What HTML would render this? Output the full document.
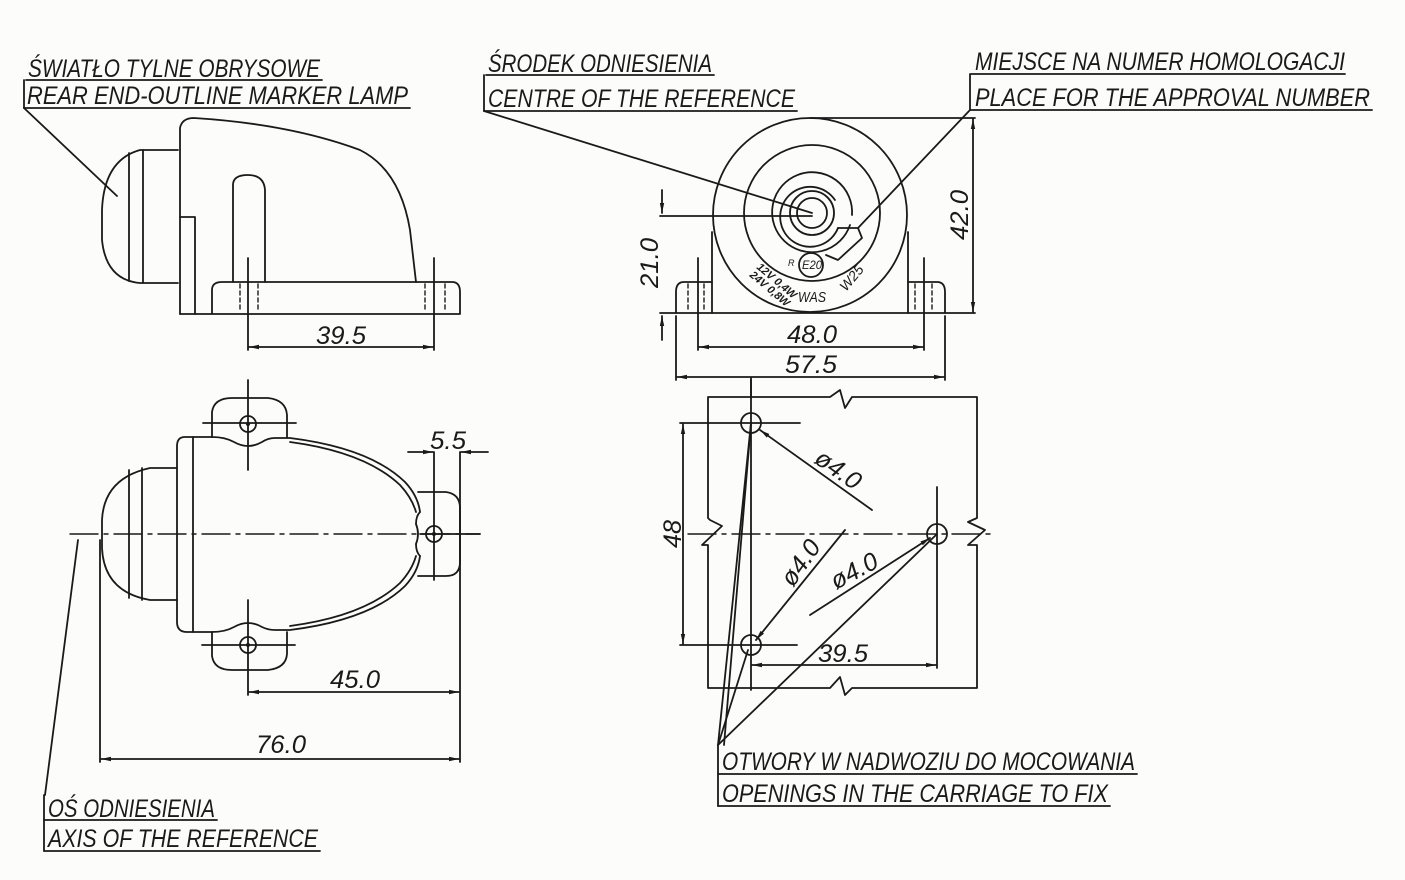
<!DOCTYPE html>
<html><head><meta charset="utf-8"><style>
html,body{margin:0;padding:0;background:#fcfcfb;}
svg{display:block;}
text{font-family:"Liberation Sans",sans-serif;font-style:italic;fill:#1a1a1a;}
</style></head><body>
<svg width="1405" height="880" viewBox="0 0 1405 880" xmlns="http://www.w3.org/2000/svg">
<defs>
<marker id="a" viewBox="0 0 10 6" refX="10" refY="3" markerWidth="10" markerHeight="6" orient="auto-start-reverse" markerUnits="userSpaceOnUse"><path d="M0,0.8 L10,3 L0,5.2z" fill="#1a1a1a"/></marker>
</defs>
<g stroke="#1a1a1a" stroke-width="1.8" fill="none" stroke-linecap="round" stroke-linejoin="round">

<line x1="26" y1="80" x2="322" y2="80"/>
<line x1="24" y1="108" x2="410" y2="108"/>
<line x1="24" y1="80" x2="24" y2="108"/>
<line x1="24" y1="108" x2="117" y2="196"/>

<path d="M180,314 L180,128 Q182,118 194,118 Q290,124 360,150 Q400,170 410,230 L416,282"/>
<path d="M178,150 L140,150 Q104,160 102,210 L102,240 Q106,280 140,283 L178,283"/>
<line x1="129" y1="153" x2="129" y2="281"/>
<line x1="143" y1="150" x2="143" y2="283"/>
<path d="M180,217 L195,217 L195,314"/>
<path d="M180,314 L212,314 M212,314 L212,290 Q212,282 222,282 L452,282 Q460,282 460,292 L460,314 Z"/>
<path d="M233,282 L233,185 Q233,175 248,175 Q264,175 265,190 L265,282"/>
<g stroke-dasharray="4,3" stroke-width="1.4">
<line x1="240" y1="284" x2="240" y2="312"/><line x1="258" y1="284" x2="258" y2="312"/>
<line x1="425" y1="284" x2="425" y2="312"/><line x1="445" y1="284" x2="445" y2="312"/>
</g>
<line x1="248" y1="258" x2="248" y2="350"/>
<line x1="434" y1="258" x2="434" y2="350"/>
<line x1="249" y1="347" x2="433" y2="347" marker-start="url(#a)" marker-end="url(#a)"/>

<line x1="486" y1="75" x2="714" y2="75"/>
<line x1="484" y1="111" x2="797" y2="111"/>
<line x1="484" y1="75" x2="484" y2="111"/>
<line x1="484" y1="111" x2="812" y2="213"/>
<line x1="971" y1="74" x2="1345" y2="74"/>
<line x1="970" y1="110" x2="1372" y2="110"/>
<line x1="970" y1="74" x2="970" y2="110"/>
<line x1="970" y1="110" x2="858" y2="228"/>

<circle cx="810" cy="215" r="97"/>
<circle cx="812" cy="213" r="68"/>
<circle cx="812" cy="213" r="15"/>
<circle cx="812" cy="213" r="22"/>
<path d="M838,228 A30,30 0 1 1 835,200"/>
<path d="M850,225 A40,40 0 1 1 852,215"/>
<path d="M838,228 L858,228 L862,238 L838,260 L826,255"/>
<circle cx="811" cy="265" r="12"/>
<line x1="712" y1="232" x2="712" y2="313"/>
<line x1="908" y1="232" x2="908" y2="313"/>
<path d="M712,282 L684,282 Q676,282 676,292 L676,313"/>
<path d="M908,282 L937,282 Q945,282 945,292 L945,313"/>
<g stroke-dasharray="4,3" stroke-width="1.4">
<line x1="688" y1="284" x2="688" y2="311"/><line x1="704" y1="284" x2="704" y2="311"/>
<line x1="915" y1="284" x2="915" y2="311"/><line x1="932" y1="284" x2="932" y2="311"/>
</g>
<line x1="660" y1="313" x2="975" y2="313"/>
<line x1="810" y1="118" x2="975" y2="118"/>
<line x1="973" y1="119" x2="973" y2="312" marker-start="url(#a)" marker-end="url(#a)"/>
<line x1="660" y1="216" x2="812" y2="216"/>
<line x1="662" y1="190" x2="662" y2="213" marker-end="url(#a)"/>
<line x1="662" y1="340" x2="662" y2="316" marker-end="url(#a)"/>
<line x1="698" y1="258" x2="698" y2="350"/>
<line x1="924" y1="258" x2="924" y2="350"/>
<line x1="699" y1="347" x2="923" y2="347" marker-start="url(#a)" marker-end="url(#a)"/>
<line x1="676" y1="316" x2="676" y2="380"/>
<line x1="945" y1="316" x2="945" y2="380"/>
<line x1="677" y1="377" x2="944" y2="377" marker-start="url(#a)" marker-end="url(#a)"/>
<line x1="751" y1="378" x2="751" y2="398"/>

<line x1="70" y1="534" x2="480" y2="534" stroke-dasharray="28,6,4,6" stroke-width="1.4"/>
<path d="M177,468 L150,468 Q104,478 102,520 L102,548 Q104,592 150,600 L177,600"/>
<line x1="129" y1="470" x2="129" y2="598"/>
<line x1="142" y1="468" x2="142" y2="600"/>
<path d="M212,437 L185,437 Q177,437 177,446 L177,622 Q177,632 187,632 L212,632"/>
<line x1="193" y1="437" x2="193" y2="632"/>
<path d="M212,437 L212,412 Q214,398 232,398 L268,398 Q286,400 287,415 L287,437"/>
<path d="M212,437 Q225,437 234,442 Q248,450 262,442 Q268,438 275,438 L290,438 Q370,448 405,482 Q418,496 420,512"/>
<path d="M290,442 Q365,452 400,485 Q412,498 416,512"/>
<path d="M212,632 L212,656 Q214,670 232,670 L268,670 Q286,668 287,654 L287,632"/>
<path d="M212,632 Q225,632 234,627 Q248,619 262,627 Q268,630 275,630 L290,630 Q370,620 405,586 Q418,572 420,556"/>
<path d="M290,626 Q365,616 400,583 Q412,570 416,556"/>
<path d="M420,512 Q416,516 416,524 M416,544 Q416,552 420,556"/>
<path d="M416,524 Q420,534 416,544"/>
<path d="M418,492 L446,492 Q460,494 460,508 L460,562 Q460,576 446,576 L418,576"/>
<circle cx="248" cy="424" r="8"/><circle cx="248" cy="424" r="1.2" fill="#1a1a1a"/>
<circle cx="248" cy="645" r="8"/><circle cx="248" cy="645" r="1.2" fill="#1a1a1a"/>
<circle cx="434" cy="534" r="8"/><circle cx="434" cy="534" r="1.2" fill="#1a1a1a"/>
<line x1="248" y1="380" x2="248" y2="470"/>
<line x1="203" y1="423" x2="296" y2="423"/>
<line x1="248" y1="600" x2="248" y2="695"/>
<line x1="202" y1="645" x2="295" y2="645"/>
<line x1="434" y1="452" x2="434" y2="580"/>
<line x1="420" y1="534" x2="480" y2="534"/>
<line x1="460" y1="452" x2="460" y2="762"/>
<line x1="408" y1="452" x2="433" y2="452" marker-end="url(#a)"/>
<line x1="488" y1="452" x2="461" y2="452" marker-end="url(#a)"/>
<line x1="249" y1="692" x2="459" y2="692" marker-start="url(#a)" marker-end="url(#a)"/>
<line x1="100" y1="540" x2="100" y2="762"/>
<line x1="101" y1="759" x2="459" y2="759" marker-start="url(#a)" marker-end="url(#a)"/>
<line x1="78" y1="540" x2="45" y2="795"/>
<line x1="44" y1="795" x2="44" y2="851"/>
<line x1="44" y1="820" x2="217" y2="820"/>
<line x1="44" y1="851" x2="320" y2="851"/>

<path d="M708,397 L830,397 L840,390 L845,408 L852,397 L977,397 L977,518 L968,522 L985,530 L968,545 L977,545 L977,688 L852,688 L845,695 L840,677 L830,688 L708,688 L708,545 L702,545 L722,526 L710,520 L708,518 Z"/>
<line x1="688" y1="534" x2="990" y2="534" stroke-dasharray="28,6,4,6" stroke-width="1.4"/>
<circle cx="751" cy="423" r="10"/>
<circle cx="751" cy="645" r="10"/>
<circle cx="937" cy="534" r="10"/>
<line x1="680" y1="423" x2="800" y2="423"/>
<line x1="680" y1="645" x2="797" y2="645"/>
<line x1="683" y1="424" x2="683" y2="644" marker-start="url(#a)" marker-end="url(#a)"/>
<line x1="751" y1="380" x2="751" y2="690"/>
<line x1="937" y1="487" x2="937" y2="668"/>
<line x1="752" y1="665" x2="936" y2="665" marker-start="url(#a)" marker-end="url(#a)"/>
<line x1="872" y1="510" x2="760" y2="430" marker-end="url(#a)"/>
<line x1="845" y1="530" x2="756" y2="640" marker-end="url(#a)"/>
<line x1="810" y1="615" x2="930" y2="538" marker-end="url(#a)"/>
<line x1="718" y1="745" x2="751" y2="423"/>
<line x1="724" y1="745" x2="751" y2="423"/>
<line x1="718" y1="745" x2="748" y2="650"/>
<line x1="718" y1="745" x2="937" y2="534"/>
<line x1="718" y1="745" x2="718" y2="806"/>
<line x1="718" y1="774" x2="1137" y2="774"/>
<line x1="718" y1="806" x2="1110" y2="806"/>
</g>

<g font-size="25">
<text x="28" y="77" textLength="292" lengthAdjust="spacingAndGlyphs">ŚWIATŁO TYLNE OBRYSOWE</text>
<text x="27" y="104" textLength="381" lengthAdjust="spacingAndGlyphs">REAR END-OUTLINE MARKER LAMP</text>
<text x="488" y="72" textLength="224" lengthAdjust="spacingAndGlyphs">ŚRODEK ODNIESIENIA</text>
<text x="488" y="107" textLength="307" lengthAdjust="spacingAndGlyphs">CENTRE OF THE REFERENCE</text>
<text x="975" y="70" textLength="370" lengthAdjust="spacingAndGlyphs">MIEJSCE NA NUMER HOMOLOGACJI</text>
<text x="975" y="106" textLength="395" lengthAdjust="spacingAndGlyphs">PLACE FOR THE APPROVAL NUMBER</text>
<text x="722" y="770" textLength="413" lengthAdjust="spacingAndGlyphs">OTWORY W NADWOZIU DO MOCOWANIA</text>
<text x="722" y="802" textLength="386" lengthAdjust="spacingAndGlyphs">OPENINGS IN THE CARRIAGE TO FIX</text>
<text x="48" y="817" textLength="167" lengthAdjust="spacingAndGlyphs">OŚ ODNIESIENIA</text>
<text x="48" y="847" textLength="270" lengthAdjust="spacingAndGlyphs">AXIS OF THE REFERENCE</text>
<text x="316" y="344" textLength="50" lengthAdjust="spacingAndGlyphs">39.5</text>
<text x="330" y="688" textLength="50" lengthAdjust="spacingAndGlyphs">45.0</text>
<text x="256" y="753" textLength="50" lengthAdjust="spacingAndGlyphs">76.0</text>
<text x="430" y="449" textLength="36" lengthAdjust="spacingAndGlyphs">5.5</text>
<text x="787" y="343" textLength="50" lengthAdjust="spacingAndGlyphs">48.0</text>
<text x="785" y="373" textLength="52" lengthAdjust="spacingAndGlyphs">57.5</text>
<text x="818" y="662" textLength="50" lengthAdjust="spacingAndGlyphs">39.5</text>
<text transform="translate(968,240) rotate(-90)" textLength="50" lengthAdjust="spacingAndGlyphs">42.0</text>
<text transform="translate(658,288) rotate(-90)" textLength="50" lengthAdjust="spacingAndGlyphs">21.0</text>
<text transform="translate(681,548) rotate(-90)" textLength="28" lengthAdjust="spacingAndGlyphs">48</text>
<text transform="translate(813,462) rotate(35)" textLength="50" lengthAdjust="spacingAndGlyphs">ø4.0</text>
<text transform="translate(793,588) rotate(-55)" textLength="50" lengthAdjust="spacingAndGlyphs">ø4.0</text>
<text transform="translate(836,590) rotate(-28)" textLength="50" lengthAdjust="spacingAndGlyphs">ø4.0</text>
</g>
<g font-style="normal">
<text x="798" y="302" font-size="15" textLength="28" lengthAdjust="spacingAndGlyphs">WAS</text>
<text x="802" y="269" font-size="12" textLength="20" lengthAdjust="spacingAndGlyphs">E20</text>
<text x="788" y="266" font-size="9">R</text>
<text transform="translate(846,292) rotate(-50)" font-size="14">W25</text>
<text transform="translate(756,268) rotate(40)" font-size="11" font-weight="bold">12V 0,4W</text>
<text transform="translate(749,276) rotate(40)" font-size="11" font-weight="bold">24V 0,8W</text>
</g>
</svg>
</body></html>
